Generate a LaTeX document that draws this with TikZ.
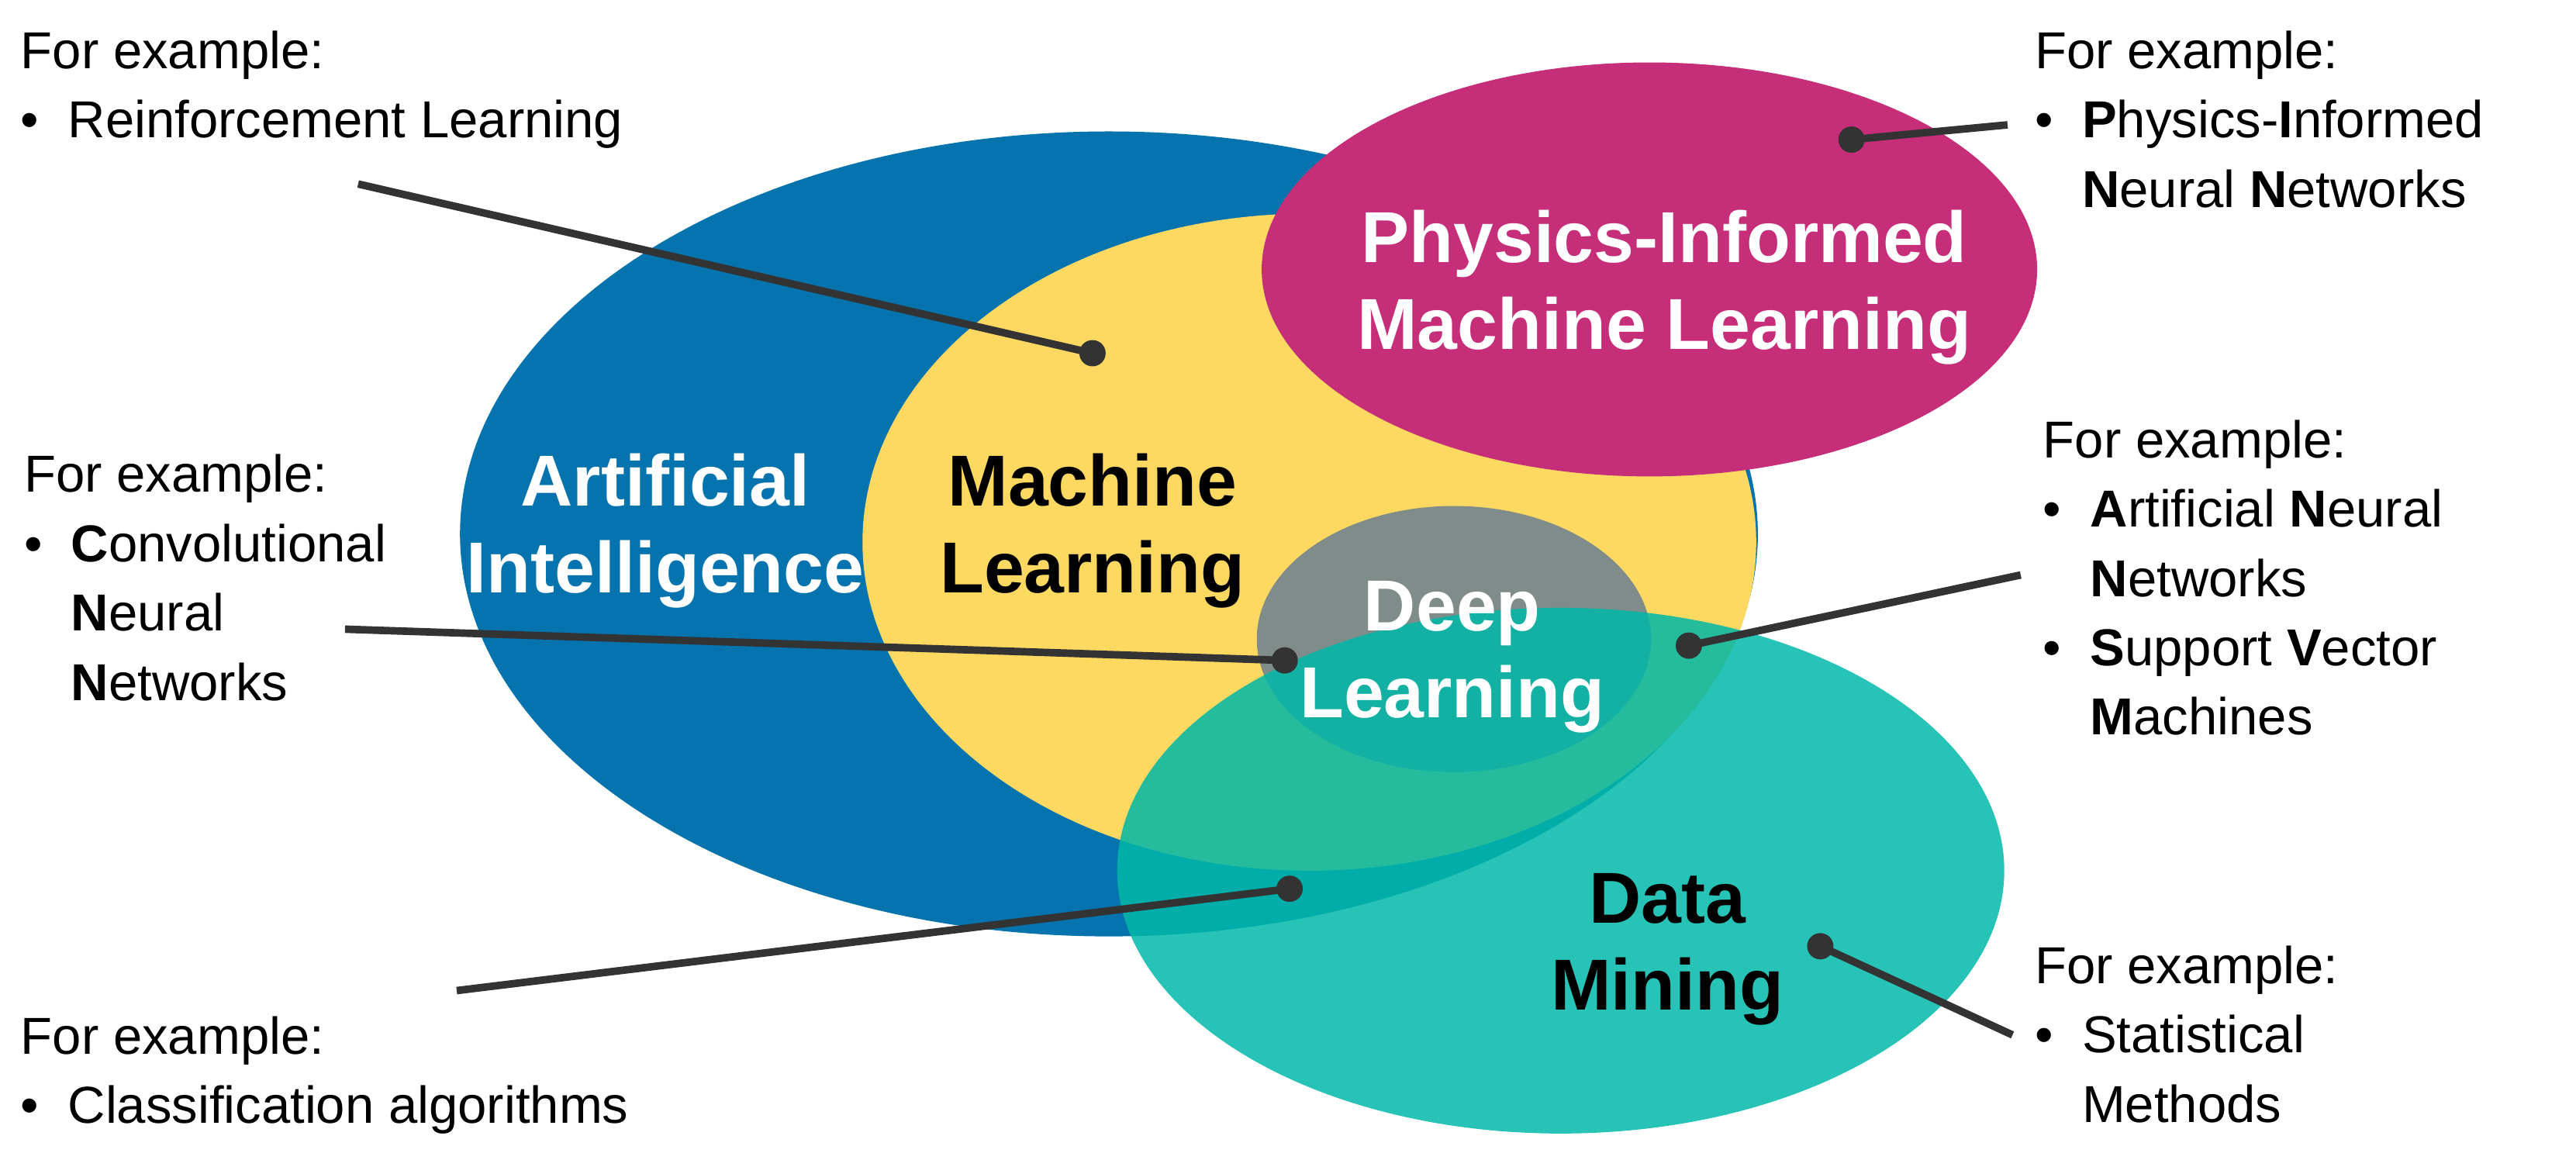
\documentclass[tikz,border=0pt]{standalone}
\usepackage{fontspec}
\setmainfont{Liberation Sans}
\definecolor{aiblue}{HTML}{0573AE}
\definecolor{mlyellow}{HTML}{FDD962}
\definecolor{pimlred}{HTML}{C62E7A}
\definecolor{dlgray}{HTML}{7F8C8A}
\definecolor{dmteal}{HTML}{00B8A9}
\definecolor{pin}{HTML}{333333}
\begin{document}
\begin{tikzpicture}
          [x=0.01cm,y=-0.01cm,
           big/.style={font=\fontsize{12.5pt}{15pt}\selectfont\bfseries, align=center},
           note/.style={font=\fontsize{9pt}{12pt}\selectfont, align=left, anchor=north west, inner sep=0pt},
           dot/.style={circle, fill=pin, inner sep=0pt, minimum size=0.16cm},
           pinline/.style={draw=pin, line width=1.3pt}]
        \useasboundingbox (0,0) rectangle (1568,706);
        \fill[aiblue] (675,325) ellipse [x radius=395, y radius=245];
        \fill[mlyellow] (797,330) ellipse [x radius=272, y radius=200];
        \fill[pimlred] (1004,164) ellipse [x radius=236, y radius=126];
        \fill[dlgray] (885,389) ellipse [x radius=120, y radius=81];
        \fill[dmteal, opacity=0.85] (950,530) ellipse [x radius=270, y radius=160];

        \node[big, white] (ai) at (405,323) {Artificial\\Intelligence};
        \node[big] (ml) at (665,323) {Machine\\Learning};
        \node[big, white] (piml) at (1013,175) {Physics-Informed\\Machine Learning};
        \node[big, white] (dl) at (884,400) {Deep\\Learning};
        \node[big] (dm) at (1015,578) {Data\\Mining};

        \node[note] (nrl) at (12,18) {For example:\\\textbullet\ \ Reinforcement Learning};
        \node[note] (npinn) at (1238,18) {For example:\\\textbullet\ \ \textbf{P}hysics-\textbf{I}nformed\\\phantom{\textbullet\ \ }\textbf{N}eural \textbf{N}etworks};
        \node[note] (ncnn) at (14,276) {For example:\\\textbullet\ \ \textbf{C}onvolutional\\\phantom{\textbullet\ \ }\textbf{N}eural\\\phantom{\textbullet\ \ }\textbf{N}etworks};
        \node[note] (nann) at (1243,255) {For example:\\\textbullet\ \ \textbf{A}rtificial \textbf{N}eural\\\phantom{\textbullet\ \ }\textbf{N}etworks\\\textbullet\ \ \textbf{S}upport \textbf{V}ector\\\phantom{\textbullet\ \ }\textbf{M}achines};
        \node[note] (ncls) at (12,618) {For example:\\\textbullet\ \ Classification algorithms};
        \node[note] (nsta) at (1238,575) {For example:\\\textbullet\ \ Statistical\\\phantom{\textbullet\ \ }Methods};

        \node[dot] (d1) at (665,215) {};
        \node[dot] (d2) at (1127,85) {};
        \node[dot] (d3) at (782,402) {};
        \node[dot] (d4) at (1028,393) {};
        \node[dot] (d5) at (785,541) {};
        \node[dot] (d6) at (1108,576) {};
        \coordinate (e1) at (218,112);
        \coordinate (e2) at (1222,76);
        \coordinate (e3) at (210,383);
        \coordinate (e4) at (1230,350);
        \coordinate (e5) at (278,603);
        \coordinate (e6) at (1225,630);

      \foreach \from/\to in {d1/e1, d2/e2, d3/e3, d4/e4, d5/e5, d6/e6}
        \draw[pinline] (\from.center) -- (\to);
      \end{tikzpicture}
\end{document}
